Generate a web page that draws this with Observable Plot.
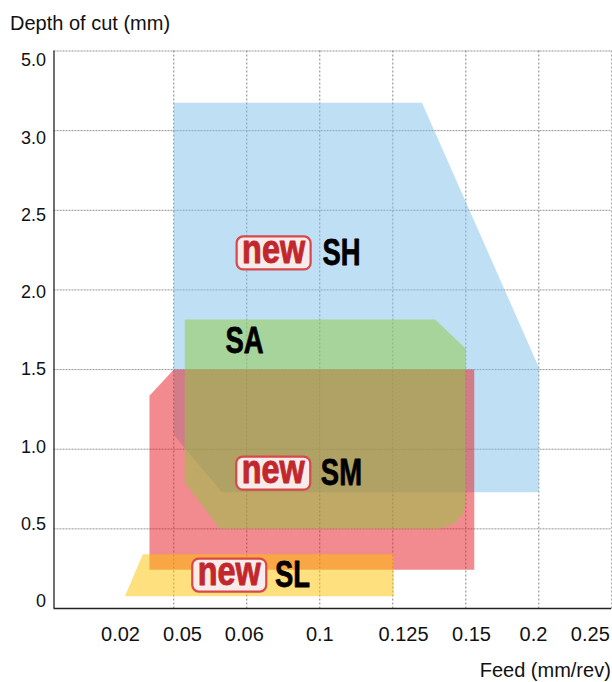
<!DOCTYPE html>
<html>
<head>
<meta charset="utf-8">
<script src="https://cdn.jsdelivr.net/npm/d3@7"></script>
<script src="https://cdn.jsdelivr.net/npm/@observablehq/plot@0.6"></script>
<style>
html,body{margin:0;padding:0;background:#fff}
svg{display:block}
</style>
</head>
<body>
<div id="chart"></div>
<script>
// Axis values
const feedTicks = [0.02, 0.05, 0.06, 0.1, 0.125, 0.15, 0.2, 0.25];
const depthTicks = [0, 0.5, 1.0, 1.5, 2.0, 2.5, 3.0, 5.0];
const feedLabels = ["0.02", "0.05", "0.06", "0.1", "0.125", "0.15", "0.2", "0.25"];
const depthLabels = ["0", "0.5", "1.0", "1.5", "2.0", "2.5", "3.0", "5.0"];

// Application areas: outline of each chipbreaker range
const shFeed  = [0.05, 0.135, 0.2, 0.2, 0.0566, 0.05];
const shDepth = [3.70, 3.70, 1.515, 0.73, 0.73, 1.09];
const smFeed  = [0.05, 0.1558, 0.1558, 0.04, 0.04];
const smDepth = [1.5, 1.5, 0.243, 0.243, 1.335];
const slFeed  = [0.0373, 0.1253, 0.1253, 0.0299];
const slDepth = [0.341, 0.341, 0.077, 0.077];
const saFeed  = [0.0515, 0.1395, 0.15, 0.15, 0.1489, 0.1461, 0.141, 0.0563, 0.0515];
const saDepth = [1.814, 1.814, 1.63, 0.659, 0.59, 0.533, 0.5, 0.5, 0.793];

// Names and "new" badges
const names = ["SH", "SM", "SL", "SA"];
const nameFeed = [0.1074, 0.1074, 0.085, 0.0597];
const nameDepth = [2.23, 0.85, 0.21, 1.68];
const badgeFeed = [0.0747, 0.0745, 0.0576];
const badgeDepth = [2.232, 0.85, 0.21];

// Both axes are evenly spaced by tick rank, not by value
const W = 612, H = 682;
const mL = 53.5, mR = 0.7, mT = 50.5, mB = 74;
const leftRank = -0.641;
const feedRank = d3.scaleLinear([0, ...feedTicks], [leftRank, ...feedTicks.map((_, i) => i)]);
const depthRank = d3.scaleLinear(depthTicks, depthTicks.map((_, i) => i));
const xNudge = [19.7, 8.7, -2.5, 0, 10.7, 5.7, -5.3, -21.5];

const zip = (xs, ys) => xs.map((x, i) => ({fx: feedRank(x), fy: depthRank(ys[i])}));
const poly = (xs, ys, fill, fillOpacity) =>
  Plot.line(zip(xs, ys), {x: "fx", y: "fy", fill, fillOpacity, stroke: "none"});

const badgeSymbol = {
  draw(ctx) {
    const w = 37, h = 16.5, r = 6.5;
    ctx.moveTo(-w + r, -h);
    ctx.arcTo(w, -h, w, h, r);
    ctx.arcTo(w, h, -w, h, r);
    ctx.arcTo(-w, h, -w, -h, r);
    ctx.arcTo(-w, -h, w, -h, r);
    ctx.closePath();
  }
};

const font = "'Liberation Sans', Arial, sans-serif";

const chart = Plot.plot({
  width: W, height: H,
  marginLeft: mL, marginRight: mR, marginTop: mT, marginBottom: mB,
  style: {fontFamily: font, background: "#fff", overflow: "visible"},
  x: {domain: [leftRank, 7]},
  y: {domain: [0, 7]},
  marks: [
    Plot.gridY(depthTicks.slice(1).map(depthRank), {stroke: "#888", strokeOpacity: 0.9, strokeDasharray: "2,1", strokeWidth: 1}),
    Plot.gridX(feedTicks.slice(1).map(feedRank), {stroke: "#777", strokeOpacity: 0.9, strokeDasharray: "2,2", strokeWidth: 1}),
    poly(shFeed, shDepth, "#7fc1e9", 0.5),
    poly(smFeed, smDepth, "#e5171f", 0.5),
    poly(slFeed, slDepth, "#ffc100", 0.5),
    poly(saFeed, saDepth, "#8dc840", 0.5),
    Plot.ruleX([leftRank], {stroke: "#222", strokeWidth: 1.3}),
    Plot.ruleY([0], {stroke: "#222", strokeWidth: 1.3}),
    ...feedTicks.map((t, i) => Plot.axisX([feedRank(t)], {
      anchor: "bottom", tickSize: 0, tickPadding: 0, label: null,
      tickFormat: () => feedLabels[i], fontSize: 20, fill: "#111",
      dx: xNudge[i], dy: 18
    })),
    ...depthTicks.map((t, i) => Plot.axisY([depthRank(t)], {
      anchor: "left", tickSize: 0, tickPadding: 0, label: null,
      tickFormat: () => depthLabels[i], fontSize: 18, fill: "#111",
      dx: -8, dy: -7 + i * 2.35
    })),
    Plot.dot(zip(badgeFeed, badgeDepth), {
      x: "fx", y: "fy", r: 10, symbol: badgeSymbol,
      fill: "#f8ecea", stroke: "#d8474a", strokeWidth: 2.2
    }),
    Plot.text(zip(badgeFeed, badgeDepth), {
      x: "fx", y: "fy", text: () => "new", fontSize: 40, fontWeight: 700,
      fontFamily: font, fill: "#c2272d", stroke: "#c2272d", strokeWidth: 1, dy: -3, className: "cond-new"
    }),
    Plot.text(zip(nameFeed, nameDepth).map((d, i) => ({...d, n: names[i]})), {
      x: "fx", y: "fy", text: "n", fontSize: 37, fontWeight: 700,
      fontFamily: font, fill: "#000", stroke: "#000", strokeWidth: 0.8, className: "cond-name"
    }),
    Plot.text(["Depth of cut (mm)"], {
      frameAnchor: "top-left", dx: -44, dy: -35.5, fontSize: 20, fill: "#111"
    }),
    Plot.text(["Feed (mm/rev)"], {
      frameAnchor: "bottom-right", dx: -1, dy: 68, fontSize: 20, fill: "#111", textAnchor: "end"
    })
  ]
});
document.getElementById("chart").append(chart);

// The reference uses a condensed bold face: narrow the installed one to match.
const condense = (selector, factor) => {
  chart.querySelectorAll(selector + " text").forEach(t => {
    const natural = t.getComputedTextLength();
    t.setAttribute("textLength", natural * factor);
    t.setAttribute("lengthAdjust", "spacingAndGlyphs");
  });
};
condense(".cond-new", 0.81);
condense(".cond-name", 0.74);
</script>
</body>
</html>
